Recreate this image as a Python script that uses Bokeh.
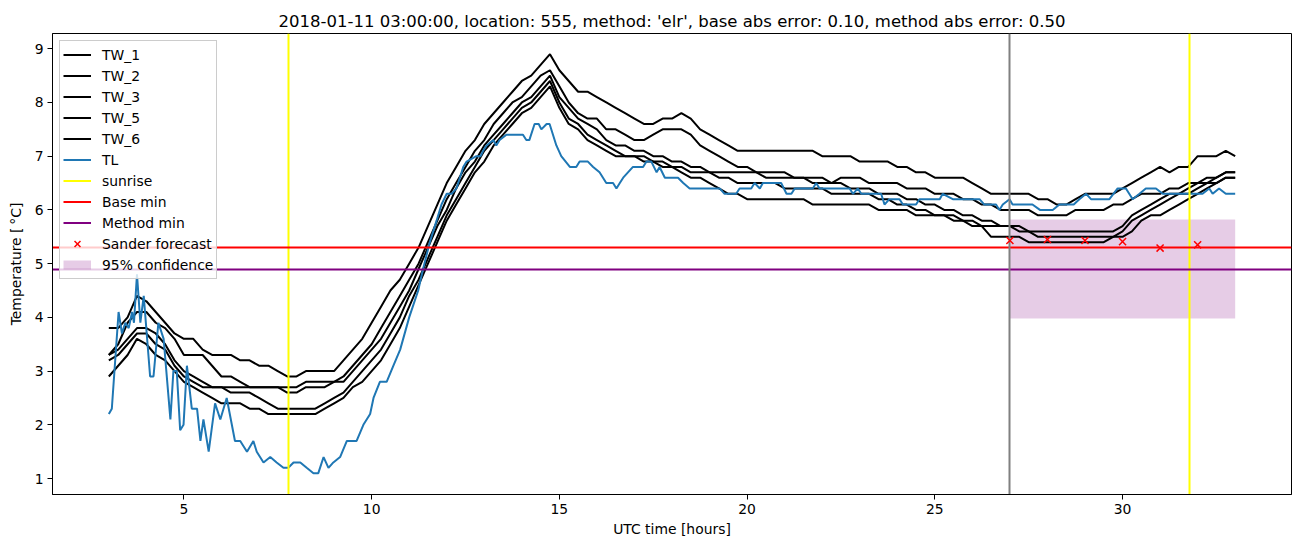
import numpy as np
from bokeh.plotting import figure
from bokeh.models import Range1d, FixedTicker, Legend, LegendItem
from bokeh.embed import file_html
from bokeh.resources import INLINE

# ---------------- data ----------------
title_text = "2018-01-11 03:00:00, location: 555, method: 'elr', base abs error: 0.10, method abs error: 0.50"

hours_tw = np.arange(3.0, 33.001, 0.25)

tw_1 = [3.8, 3.8, 4.0, 4.4,  4.3, 4.1, 3.9, 3.7,  3.6, 3.6, 3.4, 3.3,  3.3, 3.3, 3.2, 3.2,
        3.1, 3.1, 3.0, 2.9,  2.9, 3.0, 3.0, 3.0,  3.0, 3.2, 3.4, 3.6,  3.9, 4.2, 4.5, 4.7,
        5.0, 5.3, 5.7, 6.1,  6.5, 6.8, 7.1, 7.3,  7.6, 7.8, 8.0, 8.2,  8.4, 8.5, 8.7, 8.9,
        8.6, 8.4, 8.2, 8.2,  8.1, 8.0, 7.9, 7.8,  7.7, 7.6, 7.6, 7.7,  7.7, 7.8, 7.7, 7.5,
        7.4, 7.3, 7.2, 7.1,  7.1, 7.1, 7.1, 7.1,  7.1, 7.1, 7.1, 7.1,  7.0, 7.0, 7.0, 7.0,
        6.9, 6.9, 6.9, 6.9,  6.8, 6.8, 6.7, 6.7,  6.6, 6.6, 6.6, 6.6,  6.5, 6.4, 6.3, 6.3,
        6.3, 6.3, 6.3, 6.2,  6.2, 6.1, 6.1, 6.2,  6.3, 6.3, 6.3, 6.3,  6.4, 6.5, 6.6, 6.7,
        6.8, 6.7, 6.8, 6.8,  7.0, 7.0, 7.0, 7.1,  7.0]
tw_2 = [3.3, 3.5, 3.9, 4.1,  4.1, 3.9, 3.8, 3.6,  3.3, 3.3, 3.3, 3.1,  2.9, 2.9, 2.8, 2.7,
        2.7, 2.7, 2.7, 2.7,  2.7, 2.8, 2.8, 2.8,  2.8, 2.9, 3.1, 3.3,  3.5, 3.8, 4.1, 4.4,
        4.7, 5.0, 5.4, 5.8,  6.2, 6.5, 6.8, 7.1,  7.3, 7.6, 7.8, 8.0,  8.1, 8.3, 8.5, 8.6,
        8.3, 8.0, 7.8, 7.7,  7.7, 7.5, 7.5, 7.4,  7.3, 7.3, 7.4, 7.5,  7.5, 7.5, 7.4, 7.2,
        7.1, 7.0, 6.9, 6.8,  6.8, 6.7, 6.7, 6.7,  6.7, 6.6, 6.6, 6.6,  6.6, 6.5, 6.6, 6.6,
        6.6, 6.5, 6.5, 6.5,  6.5, 6.4, 6.4, 6.4,  6.3, 6.3, 6.3, 6.2,  6.2, 6.1, 6.1, 6.0,
        6.0, 6.0, 6.0, 5.9,  5.9, 5.9, 5.9, 6.0,  6.0, 6.0, 6.0, 6.1,  6.1, 6.2, 6.3, 6.3,
        6.3, 6.4, 6.4, 6.5,  6.5, 6.6, 6.6, 6.7,  6.7]
tw_3 = [3.3, 3.4, 3.6, 3.8,  3.8, 3.7, 3.5, 3.2,  3.0, 2.9, 2.8, 2.7,  2.7, 2.7, 2.7, 2.7,
        2.7, 2.7, 2.7, 2.6,  2.6, 2.7, 2.7, 2.7,  2.8, 2.8, 3.0, 3.2,  3.4, 3.6, 3.9, 4.2,
        4.5, 4.9, 5.3, 5.7,  6.0, 6.4, 6.7, 6.9,  7.2, 7.4, 7.6, 7.8,  8.0, 8.1, 8.3, 8.5,
        8.1, 7.9, 7.7, 7.6,  7.5, 7.3, 7.2, 7.2,  7.1, 7.1, 7.0, 7.0,  6.9, 6.9, 6.8, 6.8,
        6.7, 6.7, 6.7, 6.7,  6.7, 6.7, 6.6, 6.6,  6.6, 6.6, 6.6, 6.5,  6.5, 6.5, 6.5, 6.4,
        6.4, 6.4, 6.3, 6.3,  6.3, 6.2, 6.2, 6.1,  6.1, 6.0, 6.0, 5.9,  5.9, 5.8, 5.8, 5.7,
        5.7, 5.7, 5.6, 5.6,  5.6, 5.6, 5.6, 5.6,  5.6, 5.6, 5.6, 5.6,  5.7, 5.9, 6.0, 6.1,
        6.2, 6.3, 6.3, 6.4,  6.5, 6.5, 6.6, 6.7,  6.7]
tw_5 = [3.2, 3.3, 3.5, 3.7,  3.7, 3.5, 3.4, 3.1,  2.9, 2.8, 2.7, 2.7,  2.7, 2.6, 2.6, 2.6,
        2.5, 2.4, 2.3, 2.3,  2.3, 2.3, 2.3, 2.4,  2.5, 2.6, 2.8, 3.0,  3.2, 3.4, 3.7, 4.0,
        4.4, 4.7, 5.1, 5.5,  5.9, 6.2, 6.5, 6.8,  7.1, 7.3, 7.5, 7.7,  7.9, 8.0, 8.2, 8.4,
        8.0, 7.7, 7.6, 7.4,  7.3, 7.2, 7.1, 7.0,  7.0, 7.0, 6.9, 6.9,  6.8, 6.8, 6.7, 6.7,
        6.7, 6.6, 6.6, 6.5,  6.5, 6.5, 6.5, 6.5,  6.4, 6.4, 6.4, 6.4,  6.4, 6.3, 6.3, 6.3,
        6.3, 6.3, 6.2, 6.2,  6.1, 6.1, 6.0, 6.0,  5.9, 5.9, 5.9, 5.8,  5.8, 5.7, 5.7, 5.7,
        5.7, 5.6, 5.6, 5.5,  5.5, 5.5, 5.5, 5.5,  5.5, 5.5, 5.5, 5.5,  5.6, 5.8, 5.9, 6.0,
        6.1, 6.2, 6.3, 6.3,  6.4, 6.5, 6.5, 6.6,  6.6]
tw_6 = [2.9, 3.1, 3.3, 3.6,  3.5, 3.3, 3.2, 3.0,  2.8, 2.7, 2.6, 2.5,  2.4, 2.4, 2.4, 2.3,
        2.3, 2.2, 2.2, 2.2,  2.2, 2.2, 2.2, 2.3,  2.4, 2.5, 2.7, 2.8,  3.0, 3.2, 3.5, 3.8,
        4.2, 4.6, 5.0, 5.4,  5.8, 6.1, 6.4, 6.7,  6.9, 7.2, 7.4, 7.6,  7.8, 7.9, 8.1, 8.3,
        7.9, 7.6, 7.5, 7.3,  7.2, 7.1, 7.0, 7.0,  7.0, 6.9, 6.9, 6.8,  6.8, 6.7, 6.6, 6.6,
        6.5, 6.4, 6.3, 6.3,  6.2, 6.2, 6.2, 6.2,  6.2, 6.2, 6.2, 6.1,  6.1, 6.1, 6.1, 6.1,
        6.1, 6.1, 6.0, 6.0,  6.0, 6.0, 5.9, 5.9,  5.9, 5.9, 5.8, 5.8,  5.7, 5.7, 5.5, 5.5,
        5.5, 5.5, 5.4, 5.4,  5.4, 5.4, 5.4, 5.4,  5.4, 5.4, 5.4, 5.5,  5.5, 5.6, 5.8, 5.9,
        5.9, 6.0, 6.1, 6.2,  6.3, 6.4, 6.5, 6.6,  6.6]

tl_hours = [3.0, 3.08, 3.26, 3.35, 3.44, 3.53, 3.62, 3.67, 3.75, 3.84, 3.93, 4.10, 4.19, 4.32,
            4.46, 4.64, 4.72, 4.81, 4.90, 4.99, 5.08, 5.21, 5.35, 5.44, 5.52, 5.66, 5.83, 5.97,
            6.14, 6.36, 6.50, 6.68, 6.85, 6.94, 7.12, 7.30, 7.47, 7.65, 7.78, 7.92, 8.10, 8.27,
            8.45, 8.58, 8.72, 8.85, 8.98, 9.16, 9.34, 9.60, 9.78, 9.96, 10.05, 10.22, 10.40,
            10.58, 10.76, 11.00, 11.24, 11.37, 11.55, 11.73, 11.86, 12.00, 12.13, 12.26, 12.44,
            12.53, 12.79, 12.90, 12.97, 13.06, 13.24, 13.32, 13.41, 13.59, 14.03, 14.12, 14.20,
            14.34, 14.45, 14.52, 14.66, 14.74, 14.92, 15.05, 15.28, 15.45, 15.54, 15.76, 15.90,
            16.07, 16.25, 16.43, 16.52, 16.61, 16.70, 16.96, 17.23, 17.32, 17.45, 17.59, 17.67,
            17.81, 18.16, 18.30, 18.47, 19.27, 19.40, 19.71, 19.80, 20.11, 20.20, 20.34, 20.42,
            20.91, 21.05, 21.18, 21.27, 21.75, 21.84, 21.93, 22.73, 22.82, 22.95, 23.04, 23.57,
            23.66, 23.79, 24.06, 24.15, 24.50, 24.59, 25.13, 25.21, 25.48, 26.19, 26.32, 26.63,
            26.72, 26.81, 26.99, 27.07, 27.60, 27.80, 28.14, 28.32, 28.70, 28.85, 29.03, 29.16,
            29.65, 29.87, 30.09, 30.27, 30.45, 30.62, 30.89, 31.07, 32.13, 32.31, 32.40, 32.57,
            32.75, 33.00]
tl_values = [2.2, 2.3, 4.1, 3.7, 3.9, 3.8, 4.1, 3.9, 4.8, 3.9, 4.4, 2.9, 2.9, 3.9,
             3.6, 2.1, 3.0, 3.0, 1.9, 2.0, 3.1, 2.3, 2.3, 1.7, 2.1, 1.5, 2.4, 2.1,
             2.5, 1.7, 1.7, 1.5, 1.7, 1.5, 1.3, 1.4, 1.3, 1.2, 1.2, 1.3, 1.3, 1.2,
             1.1, 1.1, 1.4, 1.2, 1.3, 1.4, 1.7, 1.7, 2.0, 2.2, 2.5, 2.8, 2.8,
             3.1, 3.4, 4.0, 4.5, 4.9, 5.4, 5.8, 6.1, 6.3, 6.3, 6.4, 6.8,
             6.9, 7.0, 7.0, 7.1, 7.2, 7.3, 7.2, 7.3, 7.4, 7.4, 7.3, 7.3,
             7.6, 7.6, 7.5, 7.6, 7.6, 7.2, 7.0, 6.8, 6.8, 6.9, 6.9, 6.8,
             6.7, 6.5, 6.5, 6.4, 6.5, 6.6, 6.8, 6.8, 6.9, 6.9, 6.7, 6.8,
             6.6, 6.6, 6.5, 6.4, 6.4, 6.3, 6.3, 6.4, 6.4, 6.5, 6.4, 6.5,
             6.5, 6.3, 6.3, 6.4, 6.4, 6.5, 6.4, 6.4, 6.3, 6.4, 6.3, 6.3,
             6.1, 6.2, 6.2, 6.1, 6.1, 6.2, 6.2, 6.3, 6.2, 6.2, 6.1, 6.1,
             6.0, 6.1, 6.2, 6.1, 6.1, 6.0, 6.0, 6.1, 6.1, 6.2, 6.3, 6.2,
             6.2, 6.4, 6.4, 6.2, 6.3, 6.4, 6.4, 6.3, 6.3, 6.4, 6.3, 6.4,
             6.3, 6.3]

sunrise_hours = [7.78, 31.78]
base_min = 5.3
method_min = 4.9
forecast_start = 27.0
forecast_hours = [27, 28, 29, 30, 31, 32]
sander_forecast = [5.43, 5.45, 5.43, 5.41, 5.29, 5.35]
conf_left, conf_right = 27.0, 33.0
conf_low, conf_high = 3.98, 5.82

x_ticks = [5, 10, 15, 20, 25, 30]
y_ticks = [1, 2, 3, 4, 5, 6, 7, 8, 9]

# ---------------- figure ----------------
FONT = "DejaVu Sans"
p = figure(width=1294, height=539, output_backend="svg", toolbar_location=None,
           x_range=Range1d(1.5, 34.5), y_range=Range1d(0.703, 9.284),
           min_border_left=52, min_border_right=3, min_border_top=33, min_border_bottom=44,
           title=title_text)
p.title.text_font = FONT
p.title.text_font_size = "16.5px"
p.title.text_font_style = "normal"
p.title.text_color = "black"
p.title.align = "center"
p.title.standoff = 5
p.title.offset = 0

p.grid.visible = False
p.outline_line_color = "black"
p.outline_line_alpha = 1.0
p.outline_line_width = 1
p.background_fill_color = "white"
p.border_fill_color = "white"

p.xaxis.ticker = FixedTicker(ticks=x_ticks)
p.yaxis.ticker = FixedTicker(ticks=y_ticks)
for ax in (p.xaxis, p.yaxis):
    ax.major_label_text_font = FONT
    ax.major_label_text_font_size = "13.9px"
    ax.major_label_text_color = "black"
    ax.axis_label_text_font = FONT
    ax.axis_label_text_font_size = "13.9px"
    ax.axis_label_text_font_style = "normal"
    ax.axis_label_text_color = "black"
    ax.minor_tick_line_color = None
    ax.major_tick_in = 0
    ax.major_tick_out = 5
    ax.major_tick_line_color = "black"
    ax.axis_line_color = "black"
    ax.major_label_standoff = 4
p.xaxis.axis_label = "UTC time [hours]"
p.yaxis.axis_label = "Temperature [\u2009°C]"
p.xaxis.axis_label_standoff = 4
p.yaxis.axis_label_standoff = 8

# confidence box (below lines, like a matplotlib patch)
p.quad(left=[conf_left], right=[conf_right], bottom=[conf_low], top=[conf_high],
       fill_color="purple", fill_alpha=0.2, line_alpha=0)

tw_series = [("TW_1", tw_1), ("TW_2", tw_2), ("TW_3", tw_3), ("TW_5", tw_5), ("TW_6", tw_6)]
items = []
for name, vals in tw_series:
    r = p.line(hours_tw, vals, line_color="black", line_width=2)
    items.append(LegendItem(label=name, renderers=[r]))

r_tl = p.line(tl_hours, tl_values, line_color="#1f77b4", line_width=2)
items.append(LegendItem(label="TL", renderers=[r_tl]))

p.vspan(x=sunrise_hours, line_color="yellow", line_width=2)
p.hspan(y=[base_min], line_color="red", line_width=2)
p.hspan(y=[method_min], line_color="purple", line_width=2)
p.vspan(x=[forecast_start], line_color="gray", line_width=2)

r_sander = p.scatter(forecast_hours, sander_forecast, marker="x", size=10,
                     line_color="red", line_width=1.5)

# legend proxies (NaN data: invisible in the plot, drawn in the legend)
nan2 = np.array([np.nan, np.nan])
lg_sun = p.line(nan2, nan2, line_color="yellow", line_width=2)
lg_base = p.line(nan2, nan2, line_color="red", line_width=2)
lg_meth = p.line(nan2, nan2, line_color="purple", line_width=2)
lg_conf = p.line(nan2, nan2, line_color="purple", line_alpha=0.2, line_width=9, line_cap="butt")

items += [LegendItem(label="sunrise", renderers=[lg_sun]),
          LegendItem(label="Base min", renderers=[lg_base]),
          LegendItem(label="Method min", renderers=[lg_meth]),
          LegendItem(label="Sander forecast", renderers=[r_sander]),
          LegendItem(label="95% confidence", renderers=[lg_conf])]

legend = Legend(items=items, location="top_left")
legend.margin = 7
legend.padding = 3
legend.spacing = 0
legend.label_height = 21
legend.glyph_height = 21
legend.glyph_width = 28
legend.label_standoff = 11
legend.label_text_font = FONT
legend.label_text_font_size = "13.9px"
legend.label_text_color = "black"
legend.border_line_color = "#cccccc"
legend.border_line_alpha = 1.0
legend.background_fill_alpha = 0.8
p.add_layout(legend)

open("out.html", "w").write(file_html(p, INLINE))
